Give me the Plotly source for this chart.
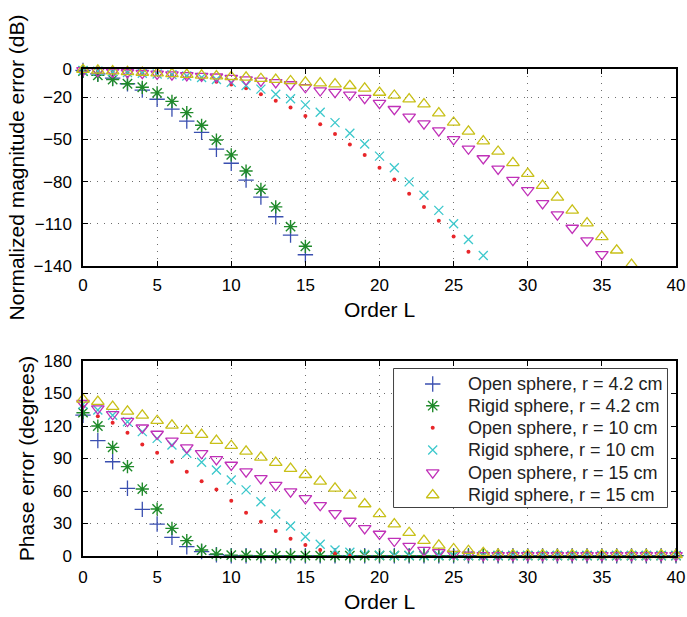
import plotly.graph_objects as go

# Spherical harmonic order axis
orders = list(range(41))

# Normalized magnitude error (dB) per order
open42_mag = [-1, -3.5, -6.5, -10.5, -15, -21.5, -28.5, -37, -45, -57, -67, -79, -91, -105, -118, -132]
rigid42_mag = [-1.5, -4.5, -7.5, -10.5, -13, -17, -23, -31, -40, -50.5, -61, -72.5, -85.5, -98, -112, -126]
open10_mag = [-1, -1.5, -2, -2.5, -3, -3.5, -4.5, -5.5, -7, -9, -11, -13.6, -17.9, -22.5, -27.4, -33.4,
              -39.3, -46.2, -53.6, -61.2, -70.2, -78.6, -88.6, -98.1, -107.9, -119, -129.8]
rigid10_mag = [-1, -1.5, -2, -2.5, -3, -3.5, -4, -5, -6, -7.5, -9.5, -11.7, -14.3, -17.9, -21.2, -25.5,
               -30.7, -38.1, -45.7, -53.3, -61.9, -70.2, -80.2, -89.7, -100.5, -110, -121.2, -132.6]
open15_mag = [-1, -1.5, -2, -2.5, -3, -3.5, -4, -4.5, -5, -5.5, -6.5, -7.5, -8.5, -9.5, -11, -13,
              -15.3, -16.5, -18.4, -20.7, -24.3, -28.6, -34, -38.8, -43.8, -50, -56.7, -63.6, -71,
              -79, -86.2, -95.5, -103.5, -113, -122, -131.7, -141]
rigid15_mag = [-0.5, -1, -1.5, -2, -2.5, -3, -3.5, -4, -4.5, -5, -5.5, -6, -6.9, -7.5, -8.5, -9.5,
               -10, -10.7, -11.9, -13.8, -16.7, -18.8, -21.4, -25, -31.4, -38, -44.3, -51.2, -58.6,
               -66.7, -74.3, -82.9, -91.2, -100.5, -109.5, -119.3, -128.8, -139]

# Phase error (degrees) per order, L = 0..40
open42_ph = [130, 106.5, 87, 62.5, 43, 29.5, 17.2, 8.6, 4, 1.2, 0.3, 0.3, 0.3, 0.3, 0.3, 0.3, 0.3,
             0.3, 0.3, 0.3, 0.3, 0.3, 0.3, 0.3, 0.3, 0.3, 0.3, 0.3, 0.3, 0.3, 0.3, 0.3, 0.3, 0.3,
             0.3, 0.3, 0.3, 0.3, 0.3, 0.3, 0.3]
rigid42_ph = [132.3, 120, 100.3, 82.5, 61.8, 43.4, 25.5, 14.2, 5.5, 1.8, 0.8, 0.5, 0.3, 0.3, 0.3,
              0.3, 0.3, 0.3, 0.3, 0.3, 0.3, 0.3, 0.3, 0.3, 0.3, 0.3, 0.3, 0.3, 0.3, 0.3, 0.3, 0.3,
              0.3, 0.3, 0.3, 0.3, 0.3, 0.3, 0.3, 0.3, 0.3]
open10_ph = [138, 129, 123, 113.8, 103, 95.4, 87, 77.8, 68.9, 61.5, 51, 40, 31.7, 23, 16, 10.2,
             5.5, 2.5, 1, 0.5, 0.3, 0.3, 0.3, 0.3, 0.3, 0.3, 0.3, 0.3, 0.3, 0.3, 0.3, 0.3, 0.3,
             0.3, 0.3, 0.3, 0.3, 0.3, 0.3, 0.3, 0.3]
rigid10_ph = [140, 134.8, 130, 124, 114.8, 108.6, 102.5, 94.8, 86.5, 79.4, 70.2, 61, 50.1, 38.8,
              27.7, 17.8, 10.8, 5.5, 3.4, 1.5, 0.8, 0.4, 0.4, 0.4, 0.4, 0.4, 0.4, 0.4, 0.4, 0.4,
              0.4, 0.4, 0.4, 0.4, 0.4, 0.4, 0.4, 0.4, 0.4, 0.4, 0.4]
open15_ph = [141, 136, 130.8, 124.6, 118.4, 112.6, 106.2, 100, 94.8, 89.2, 84, 77.8, 71.7, 65.4,
             59.4, 53.2, 46.8, 39.4, 32.3, 25.5, 20.3, 13.8, 9.2, 5.5, 3.4, 1.8, 1, 0.5, 0.5, 0.5,
             0.5, 0.5, 0.5, 0.5, 0.5, 0.5, 0.5, 0.5, 0.5, 0.5, 0.5]
rigid15_ph = [144.6, 142.5, 137.9, 133.5, 129.8, 124.9, 120.6, 115.7, 112, 106.5, 101.8, 96.6,
              91.1, 86.2, 80.6, 75, 68.9, 62.5, 56, 48, 38.8, 29.5, 21.5, 14.2, 9.8, 6.5, 4.9, 3,
              1.5, 1, 1, 1, 1, 1, 1, 1, 1, 1, 1, 1, 1]

names = ["Open sphere, r = 4.2 cm", "Rigid sphere, r = 4.2 cm",
         "Open sphere, r = 10 cm", "Rigid sphere, r = 10 cm",
         "Open sphere, r = 15 cm", "Rigid sphere, r = 15 cm"]

mag_series = [open42_mag, rigid42_mag, open10_mag, rigid10_mag, open15_mag, rigid15_mag]
ph_series = [open42_ph, rigid42_ph, open10_ph, rigid10_ph, open15_ph, rigid15_ph]

# marker styling per series
styles = [
    dict(symbol="cross-thin-open", size=11, color="#3a4fb0", line=dict(color="#3a4fb0", width=1.3)),
    dict(symbol="asterisk-open", size=11, color="#1f8a2a", line=dict(color="#1f8a2a", width=1.4)),
    dict(symbol="circle", size=4, color="#e8262a", line=dict(width=0)),
    dict(symbol="x-thin-open", size=9, color="#3cc8cc", line=dict(color="#3cc8cc", width=1.3)),
    dict(symbol="triangle-down-open", size=11, color="#c030b8", line=dict(color="#c030b8", width=1.3)),
    dict(symbol="triangle-up-open", size=11, color="#c8c018", line=dict(color="#c8c018", width=1.3)),
]

# subplot geometry (paper fractions) and ranges
x_range = [0, 40]
mag_range = [-140, 0]
ph_range = [0, 180]
top_domain = [0.5955, 1]
bottom_domain = [0, 0.4004]
key_xdom = [0.5245, 0.9848]
key_ydom = [0.1006, 0.384]

fig = go.Figure()

for name, vals, st in zip(names, mag_series, styles):
    fig.add_trace(go.Scatter(
        x=orders[:len(vals)], y=vals, mode="markers", name=name, marker=st,
        xaxis="x", yaxis="y", showlegend=False, cliponaxis=False))

for name, vals, st in zip(names, ph_series, styles):
    fig.add_trace(go.Scatter(
        x=orders[:len(vals)], y=vals, mode="markers", name=name, marker=st,
        xaxis="x2", yaxis="y2", showlegend=False, cliponaxis=False))

# Legend key: its own small hidden subplot, one row per series (pixel-like units)
key_w, key_h = 273, 138
row_pos = [15, 36.7, 58.7, 81, 103.7, 126]
symbol_x = 38.7
text_x = 72
for name, st, ry in zip(names, styles, row_pos):
    fig.add_trace(go.Scatter(
        x=[symbol_x], y=[ry], mode="markers", marker=st, name=name,
        xaxis="x3", yaxis="y3", showlegend=False, hoverinfo="skip", cliponaxis=False))

font_family = "Liberation Sans, Arial, sans-serif"


def axis_style(**kw):
    base = dict(
        showline=True, linecolor="black", linewidth=1.5, mirror="ticks",
        ticks="inside", ticklen=5, tickcolor="black", tickwidth=1,
        showgrid=True, gridcolor="#6e6e6e", griddash="1px,6px", gridwidth=1.2,
        zeroline=False, automargin=False,
        tickfont=dict(size=17, color="black", family=font_family),
    )
    base.update(kw)
    return base


def to_data(frac, dom, rng):
    # paper fraction -> data value on an axis spanning `dom` with range `rng`
    t = (frac - dom[0]) / (dom[1] - dom[0])
    return rng[0] + t * (rng[1] - rng[0])


x_ticks = [0, 5, 10, 15, 20, 25, 30, 35, 40]
mag_ticks = [0, -20, -50, -80, -110, -140]
ph_ticks = [0, 30, 60, 90, 120, 150, 180]

title_font = dict(size=21, color="black", family=font_family)

# white legend box in the phase subplot, drawn over its grid but under the key markers
box = dict(
    type="rect", xref="x2", yref="y2",
    x0=to_data(key_xdom[0], [0, 1], x_range), x1=to_data(key_xdom[1], [0, 1], x_range),
    y0=to_data(key_ydom[0], bottom_domain, ph_range), y1=to_data(key_ydom[1], bottom_domain, ph_range),
    fillcolor="white", line=dict(color="black", width=1.5), layer="between",
)

fig.update_layout(
    width=687, height=617,
    margin=dict(l=83, r=11, t=69, b=61),
    paper_bgcolor="white", plot_bgcolor="white",
    font=dict(family=font_family, color="black"),
    showlegend=False,
    xaxis=axis_style(domain=[0, 1], range=x_range, tickvals=x_ticks, anchor="y",
                     ticklabelstandoff=3,
                     title=dict(text="Order L", font=title_font, standoff=8)),
    yaxis=axis_style(domain=top_domain, range=mag_range, tickvals=mag_ticks, anchor="x",
                     ticklabelstandoff=6,
                     title=dict(text="Normalized magnitude error (dB)", font=title_font, standoff=3)),
    xaxis2=axis_style(domain=[0, 1], range=x_range, tickvals=x_ticks, anchor="y2",
                      ticklabelstandoff=5,
                      title=dict(text="Order L", font=title_font, standoff=8)),
    yaxis2=axis_style(domain=bottom_domain, range=ph_range, tickvals=ph_ticks, anchor="x2",
                      ticklabelstandoff=6,
                      title=dict(text="Phase error (degrees)", font=title_font, standoff=3)),
    xaxis3=dict(domain=key_xdom, range=[0, key_w], visible=False, anchor="y3",
                fixedrange=True, showgrid=False, zeroline=False),
    yaxis3=dict(domain=key_ydom, range=[key_h, 0], visible=False, anchor="x3",
                fixedrange=True, showgrid=False, zeroline=False),
    shapes=[box],
    annotations=[
        dict(text=name, x=text_x, y=ry, xref="x3", yref="y3", xanchor="left",
             yanchor="middle", showarrow=False,
             font=dict(size=18, color="#222", family=font_family))
        for name, ry in zip(names, row_pos)
    ],
)

fig.write_html("out.html")
